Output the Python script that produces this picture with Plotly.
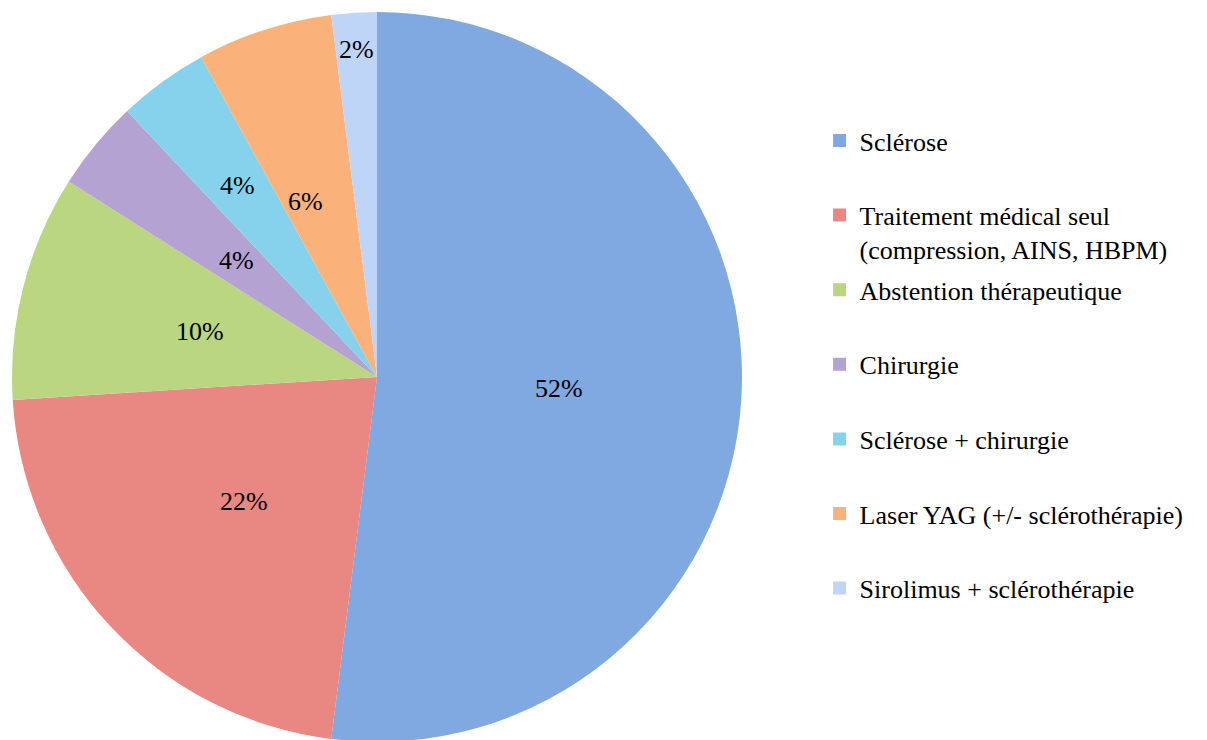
import math
import plotly.graph_objects as go

categories = [
    "Sclérose",
    "Traitement médical seul<br>(compression, AINS, HBPM)",
    "Abstention thérapeutique",
    "Chirurgie",
    "Sclérose + chirurgie",
    "Laser YAG (+/- sclérothérapie)",
    "Sirolimus + sclérothérapie",
]
values = [52, 22, 10, 4, 4, 6, 2]
colors = ["#7fa9e0", "#e98783", "#bad680", "#b3a2d2", "#86d2ec", "#fbb27a", "#bfd5f7"]

# label placement (fraction of radius, angular nudge in degrees) - styling only
label_radius = [0.5, 0.5, 0.5, 0.5, 0.65, 0.52, 0.9]
label_nudge = [0, 0, 0, 0, 0, -4, 0]

FONT = "Liberation Serif"
W, H = 1207, 740
OFF = 8  # page body margin in the browser
dom_x = [(12 - OFF) / W, (742 - OFF) / W]
dom_y = [(OFF - 2) / H, (728 + OFF) / H]


def serif(t):
    return "<br>".join(
        f'<span style="font-family:{FONT}, serif">{part}</span>' for part in t.split("<br>")
    )


fig = go.Figure()
fig.add_trace(go.Pie(
    labels=categories, values=values, sort=False, direction="clockwise", rotation=0,
    marker=dict(colors=colors, line=dict(width=0)), textinfo="none", showlegend=False,
    domain=dict(x=dom_x, y=[max(0, dom_y[0]), dom_y[1]]),
))

total = sum(values)
pw = (dom_x[1] - dom_x[0]) * W
ph = (min(1, dom_y[1]) - max(0, dom_y[0])) * H
r_px = min(pw, ph) / 2
cx = (dom_x[0] + dom_x[1]) / 2
cy = (max(0, dom_y[0]) + min(1, dom_y[1])) / 2
cum = 0
for v, f, nd in zip(values, label_radius, label_nudge):
    mid = (cum + v / 2) / total * 360 + nd
    cum += v
    a = math.radians(mid)
    fig.add_annotation(
        x=cx + f * r_px * math.sin(a) / W, y=cy + f * r_px * math.cos(a) / H,
        xref="paper", yref="paper", showarrow=False, xanchor="center", yanchor="middle",
        text=serif(f"{round(v / total * 100)}%"),
        font=dict(family=FONT, size=26, color="#000000"),
    )

for i, (name, col) in enumerate(zip(categories, colors)):
    label = name if "<br>" in name else name + "<br> "
    fig.add_trace(go.Scatter(
        x=[None], y=[None], mode="markers", name=serif(label),
        marker=dict(symbol="square", size=13, color=col),
        legendgroup=f"g{i}", showlegend=True,
    ))

fig.update_layout(
    font=dict(family=FONT, size=26, color="#000000"),
    width=W, height=H, margin=dict(l=0, r=0, t=0, b=0),
    paper_bgcolor="white", plot_bgcolor="white",
    xaxis=dict(visible=False), yaxis=dict(visible=False),
    legend=dict(
        x=0.6724, y=0.8526, xanchor="left", yanchor="top",
        font=dict(family=FONT, size=26, color="#000000"),
        valign="top", tracegroupgap=4, bgcolor="rgba(0,0,0,0)",
    ),
)

fig.write_html("out.html")
